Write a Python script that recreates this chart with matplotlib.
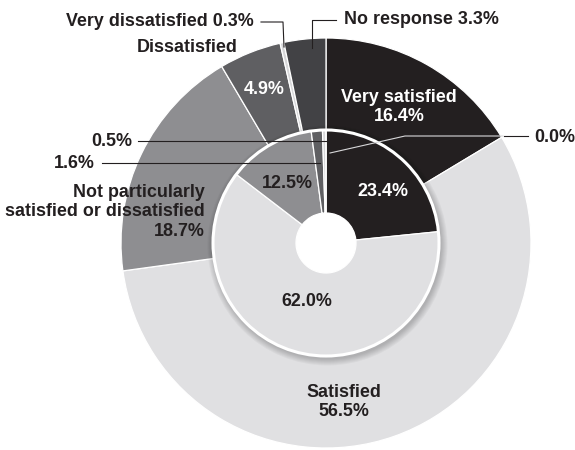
import matplotlib

matplotlib.use("Agg")
import matplotlib.pyplot as plt
from matplotlib.patches import Circle
import numpy as np

# ---------------------------------------------------------------------------
# data: outer ring / inner ring (percent), clockwise from 12 o'clock
# ---------------------------------------------------------------------------
categories = [
    "Very satisfied",
    "Satisfied",
    "Not particularly\nsatisfied or dissatisfied",
    "Dissatisfied",
    "Very dissatisfied",
    "No response",
]
outer_pct = [16.4, 56.5, 18.7, 4.9, 0.3, 3.3]
inner_pct = [23.4, 62.0, 12.5, 1.6, 0.5, 0.0]

colors = ["#231f20", "#e0e0e2", "#8e8e91", "#5f5f62", "#d6d6d8", "#424245"]
INK = "#231f20"

W, H = 575, 450
CX, CY = 326, H - 243
R_OUT, R_IN, R_HOLE = 205, 113, 30


def P(x, y):
    # pixel coords (origin top-left) -> axes coords
    return x, H - y


fig = plt.figure(figsize=(W / 100, H / 100), dpi=100, facecolor="white")
ax = fig.add_axes([0, 0, 1, 1])

plt.rcParams["font.family"] = ["Liberation Sans", "DejaVu Sans"]

# outer ring
ax.pie(
    outer_pct,
    colors=colors,
    radius=R_OUT,
    center=(CX, CY),
    startangle=90,
    counterclock=False,
    wedgeprops=dict(width=R_OUT - R_IN + 4, edgecolor="white", linewidth=0.9),
    frame=True,
)

# soft shadow under the inner ring
for r in np.linspace(R_IN + 7, R_IN + 1, 7):
    ax.add_patch(Circle((CX + 1.5, CY - 2.5), r, facecolor="black", edgecolor="none", alpha=0.03))

# inner ring
ax.pie(
    inner_pct,
    colors=colors,
    radius=R_IN,
    center=(CX, CY),
    startangle=90,
    counterclock=False,
    wedgeprops=dict(width=R_IN - R_HOLE, edgecolor="white", linewidth=0.9),
    frame=True,
)
ax.add_patch(Circle((CX, CY), R_IN, facecolor="none", edgecolor="white", linewidth=2.2))
ax.add_patch(Circle((CX, CY), R_HOLE, facecolor="white", edgecolor="none"))

ax.set_xlim(0, W)
ax.set_ylim(0, H)
ax.set_aspect("equal")
ax.axis("off")

fs = 12.9
txt = dict(fontsize=fs, fontweight="bold", color=INK, linespacing=1.2)

# labels inside the rings
ax.text(*P(399, 107), f"{categories[0]}\n{outer_pct[0]:.1f}%", ha="center", va="center",
        **{**txt, "color": "white"})
ax.text(*P(264, 90), f"{outer_pct[3]:.1f}%", ha="center", va="center", **{**txt, "color": "white"})
ax.text(*P(344, 402), f"{categories[1]}\n{outer_pct[1]:.1f}%", ha="center", va="center", **txt)
ax.text(*P(205, 212), f"{categories[2]}\n{outer_pct[2]:.1f}%", ha="right", va="center", **txt)
ax.text(*P(187, 48), categories[3], ha="center", va="center", **txt)

ax.text(*P(383, 192), f"{inner_pct[0]:.1f}%", ha="center", va="center", **{**txt, "color": "white"})
ax.text(*P(307, 301), f"{inner_pct[1]:.1f}%", ha="center", va="center", **txt)
ax.text(*P(287, 183), f"{inner_pct[2]:.1f}%", ha="center", va="center", **txt)

# callouts for the thin slices
ax.text(*P(254, 22), f"{categories[4]} {outer_pct[4]:.1f}%", ha="right", va="center", **txt)
ax.plot(*zip(P(261, 22), P(283, 22), P(284, 47)), color=INK, lw=0.8)

ax.text(*P(344, 20), f"{categories[5]} {outer_pct[5]:.1f}%", ha="left", va="center", **txt)
ax.plot(*zip(P(336, 20), P(312, 20), P(312, 48)), color=INK, lw=0.8)

ax.text(*P(132, 141), f"{inner_pct[4]:.1f}%", ha="right", va="center", **txt)
ax.plot(*zip(P(138, 141), P(327, 141)), color=INK, lw=0.8)

ax.text(*P(95, 163), f"{inner_pct[3]:.1f}%", ha="right", va="center", **txt)
ax.plot(*zip(P(102, 163), P(320, 163)), color=INK, lw=0.8)

ax.text(*P(534, 137), f"{inner_pct[5]:.1f}%", ha="left", va="center", **txt)
ax.plot(*zip(P(330, 153), P(405, 136), P(503, 136)), color="#d8d8da", lw=0.8)
ax.plot(*zip(P(504, 136), P(528, 136)), color=INK, lw=0.8)

fig.savefig("out.png", dpi=100, facecolor="white")
